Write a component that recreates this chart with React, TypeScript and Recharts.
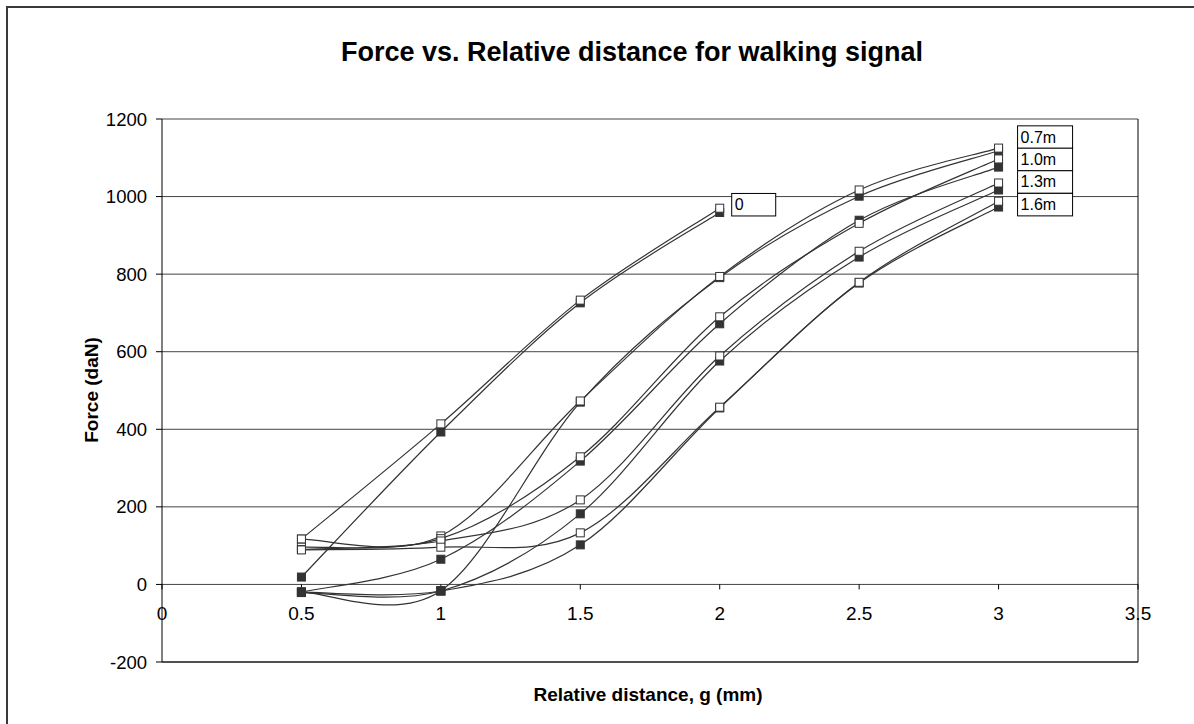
import { LineChart, Line, XAxis, YAxis, CartesianGrid, ReferenceLine, ReferenceDot, LabelList } from 'recharts';

// relative distance g (mm)
const G = [0.5, 1, 1.5, 2, 2.5, 3];

// force (daN), open = white squares, filled = black squares
const D0_OPEN = [117, 414, 733, 970, null, null];
const D0_FILLED = [19, 393, 726, 959, null, null];
const M07_OPEN = [117, 125, 473, 794, 1017, 1125];
const M07_FILLED = [-19, -16, 470, 791, 1001, 1118];
const M10_OPEN = [96, 118, 329, 690, 931, 1097];
const M10_FILLED = [-20, 65, 318, 672, 939, 1076];
const M13_OPEN = [90, 112, 218, 589, 859, 1035];
const M13_FILLED = [-21, -17, 182, 576, 844, 1017];
const M16_OPEN = [89, 96, 133, 457, 779, 988];
const M16_FILLED = [-20, -17, 102, 455, 777, 973];

const Y_TICKS = [-200, 0, 200, 400, 600, 800, 1000, 1200];
const X_TICKS = [0, 0.5, 1, 1.5, 2, 2.5, 3, 3.5];

const FONT = '"Liberation Sans", Arial, sans-serif';
const INK = '#333';

type Series = { key: string; values: (number | null)[]; filled: boolean; label?: string; dx?: number; dy?: number };

// filled series first so the open markers sit on top
const SERIES: Series[] = [
  { key: 'd0f', values: D0_FILLED, filled: true },
  { key: 'm07f', values: M07_FILLED, filled: true },
  { key: 'm10f', values: M10_FILLED, filled: true },
  { key: 'm13f', values: M13_FILLED, filled: true },
  { key: 'm16f', values: M16_FILLED, filled: true },
  { key: 'd0o', values: D0_OPEN, filled: false, label: '0', dx: 12, dy: -3.5 },
  { key: 'm07o', values: M07_OPEN, filled: false, label: '0.7m', dx: 19, dy: -11 },
  { key: 'm10o', values: M10_OPEN, filled: false, label: '1.0m', dx: 19, dy: 0.5 },
  { key: 'm13o', values: M13_OPEN, filled: false, label: '1.3m', dx: 19, dy: -1 },
  { key: 'm16o', values: M16_OPEN, filled: false, label: '1.6m', dx: 19, dy: 3.4 },
];

const data = G.map((g, i) => {
  const row: Record<string, number | null> = { g };
  SERIES.forEach((s) => (row[s.key] = s.values[i]));
  return row;
});

// Excel-style smoothed line (cardinal bezier through the points)
function excelCurve(context: any) {
  let pts: number[][] = [];
  return {
    areaStart() {},
    areaEnd() {},
    lineStart() {
      pts = [];
    },
    point(x: number, y: number) {
      pts.push([+x, +y]);
    },
    lineEnd() {
      if (!pts.length) return;
      context.moveTo(pts[0][0], pts[0][1]);
      for (let i = 0; i < pts.length - 1; i++) {
        const p0 = pts[i - 1] || pts[i];
        const p1 = pts[i];
        const p2 = pts[i + 1];
        const p3 = pts[i + 2] || p2;
        context.bezierCurveTo(
          p1[0] + (p2[0] - p0[0]) / 6,
          p1[1] + (p2[1] - p0[1]) / 6,
          p2[0] - (p3[0] - p1[0]) / 6,
          p2[1] - (p3[1] - p1[1]) / 6,
          p2[0],
          p2[1]
        );
      }
    },
  };
}

const squareDot = (s: Series) => (props: any) => {
  const { cx, cy, index, value } = props;
  if (cx == null || cy == null || value == null) return <g key={`${s.key}-${index}`} />;
  return (
    <rect
      key={`${s.key}-${index}`}
      x={cx - 4}
      y={cy - 4}
      width={8}
      height={8}
      fill={s.filled ? INK : '#fff'}
      stroke={INK}
      strokeWidth={1}
    />
  );
};

const endLabel = (s: Series) => (props: any) => {
  const { x, y, index } = props;
  let last = s.values.length - 1;
  while (last > 0 && s.values[last] == null) last--;
  if (index !== last || x == null || y == null) return null;
  const w = s.label === '0' ? 44 : 55;
  const h = 22.5;
  const left = x + (s.dx || 0);
  const cy = y + (s.dy || 0);
  return (
    <g key={`lbl-${s.key}`}>
      <rect x={left} y={cy - h / 2} width={w} height={h} fill="#fff" stroke="#000" strokeWidth={1} />
      <text x={left + 3} y={cy + 5.5} fontSize={16} fontFamily={FONT} fill="#000">
        {s.label}
      </text>
    </g>
  );
};

const xTick = (label: number) => (props: any) => {
  const { cx, cy } = props;
  return (
    <g>
      <line x1={cx} y1={cy} x2={cx} y2={cy + 5} stroke="#000" strokeWidth={1} />
      <text x={cx} y={cy + 36} textAnchor="middle" fontSize={19} fontFamily={FONT} fill="#000">
        {label}
      </text>
    </g>
  );
};

export default function App() {
  return (
    <div style={{ position: 'absolute', left: 0, top: 0, width: 1194, height: 724, overflow: 'hidden', background: '#fff' }}>
      <div style={{ position: 'absolute', left: 6, top: 6, width: 1300, height: 900, border: '2px solid #3a3a3a' }} />
      <div style={{ position: 'absolute', left: 0, top: 0 }}>
        <LineChart width={1194} height={724} data={data} margin={{ top: 119, right: 56, bottom: 62, left: 102 }}>
          <CartesianGrid vertical={false} stroke="#444" strokeWidth={1} />
          <XAxis dataKey="g" type="number" domain={[0, 3.5]} ticks={X_TICKS} hide />
          <YAxis
            domain={[-200, 1200]}
            ticks={Y_TICKS}
            width={60}
            tickSize={6}
            tickMargin={9}
            axisLine={{ stroke: '#000' }}
            tickLine={{ stroke: '#000' }}
            tick={{ fill: '#000', fontSize: 18.5, fontFamily: FONT }}
            allowDataOverflow
          />
          <ReferenceLine x={3.5} stroke="#000" strokeWidth={1} ifOverflow="visible" />
          <ReferenceLine y={-200} stroke="#000" strokeWidth={1} ifOverflow="visible" />
          {X_TICKS.map((t) => (
            <ReferenceDot key={`xt-${t}`} x={t} y={0} r={0} ifOverflow="visible" shape={xTick(t)} />
          ))}
          {SERIES.map((s) => (
            <Line
              key={s.key}
              dataKey={s.key}
              type={excelCurve as any}
              stroke={INK}
              strokeWidth={1.2}
              dot={squareDot(s)}
              activeDot={false}
              isAnimationActive={false}
              connectNulls={false}
            >
              {s.label ? <LabelList dataKey={s.key} content={endLabel(s)} /> : null}
            </Line>
          ))}
        </LineChart>
      </div>
      <svg width={1194} height={724} style={{ position: 'absolute', left: 0, top: 0, pointerEvents: 'none' }}>
        <text x={632} y={61} textAnchor="middle" fontSize={27} fontWeight="bold" fontFamily={FONT} fill="#000">
          Force vs. Relative distance for walking signal
        </text>
        <text x={648} y={701} textAnchor="middle" fontSize={19} fontWeight="bold" fontFamily={FONT} fill="#000">
          Relative distance, g (mm)
        </text>
        <text
          x={0}
          y={0}
          transform="translate(98 390) rotate(-90)"
          textAnchor="middle"
          fontSize={19}
          fontWeight="bold"
          fontFamily={FONT}
          fill="#000"
        >
          Force (daN)
        </text>
      </svg>
    </div>
  );
}
